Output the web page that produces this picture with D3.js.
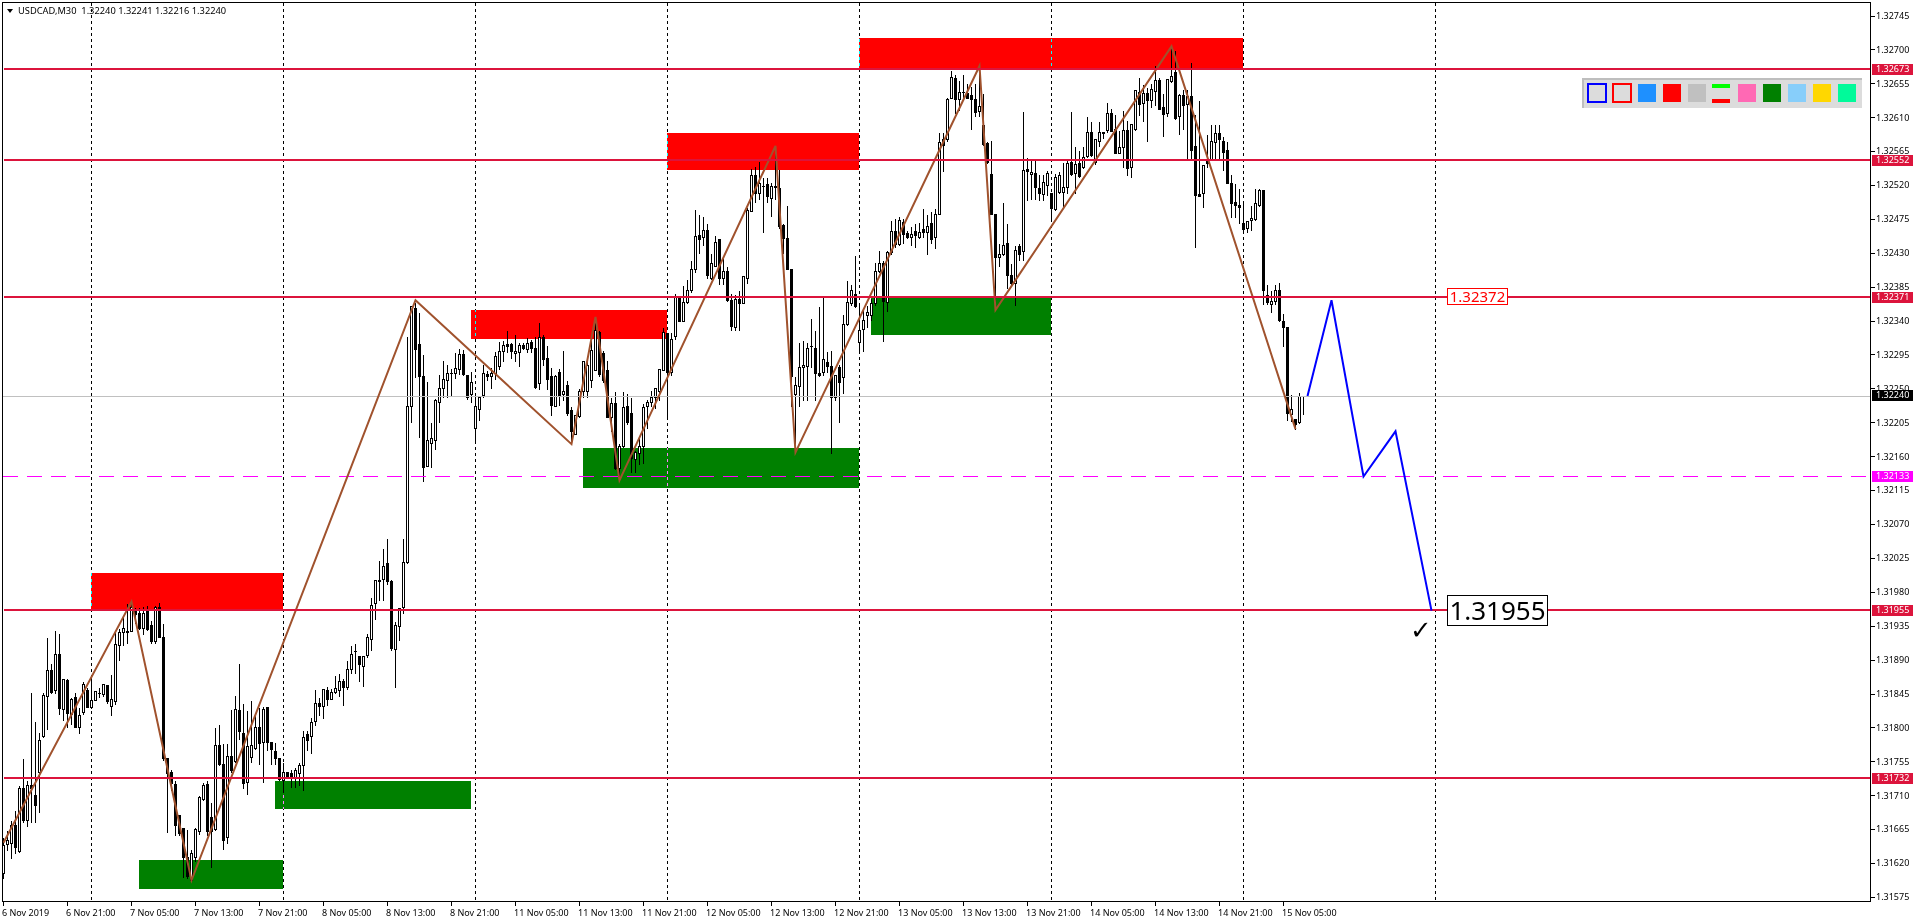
<!DOCTYPE html>
<html><head><meta charset="utf-8">
<script src="https://cdnjs.cloudflare.com/ajax/libs/d3/7.8.5/d3.min.js"></script>
<style>html,body{margin:0;padding:0;background:#fff;overflow:hidden}svg{display:block}text{font-family:"Noto Sans",sans-serif}</style>
</head><body><svg id="c" width="1916" height="923"></svg>
<script>
// prices are stored as points above 1.30000 (1607 = 1.31607)
const opens=[1607,1645,1646,1670,1636,1719,1677,1724,1710,1741,
1788,1842,1876,1850,1897,1825,1863,1818,1840,1801,
1821,1850,1827,1837,1846,1844,1856,1829,1835,1909,
1927,1928,1928,1954,1952,1932,1954,1936,1915,1960,
1920,1760,1741,1725,1684,1666,1628,1597,1628,1663,
1705,1725,1681,1665,1776,1752,1654,1762,1756,1823,
1793,1728,1761,1772,1800,1780,1827,1780,1769,1760,
1730,1741,1740,1733,1739,1750,1791,1788,1808,1833,
1828,1850,1838,1847,1850,1862,1854,1878,1902,1895,
1882,1896,1918,1965,1996,1997,2018,1994,1904,1934,
1960,2020,2226,2357,2309,2267,2147,2177,2181,2232,
2250,2261,2270,2270,2276,2295,2268,2243,2197,2222,
2241,2269,2267,2270,2280,2299,2309,2309,2297,2298,
2308,2302,2311,2303,2257,2318,2290,2267,2227,2272,
2243,2255,2221,2190,2214,2246,2246,2261,2275,2325,
2297,2275,2212,2230,2144,2173,2226,2218,2156,2164,
2174,2226,2232,2238,2246,2275,2323,2272,2319,2370,
2340,2365,2380,2408,2454,2451,2460,2397,2413,2448,
2397,2406,2367,2332,2369,2364,2397,2486,2533,2510,
2519,2521,2503,2519,2516,2467,2450,2408,2243,2253,
2278,2280,2306,2303,2271,2272,2285,2280,2238,2278,
2265,2336,2364,2375,2311,2329,2348,2348,2363,2406,
2417,2365,2431,2459,2442,2471,2456,2451,2459,2451,
2461,2458,2470,2451,2482,2581,2581,2635,2662,2634,
2643,2642,2639,2634,2618,2600,2576,2535,2482,2425,
2428,2443,2401,2390,2439,2432,2541,2535,2536,2516,
2508,2520,2510,2488,2511,2511,2517,2550,2536,2549,
2544,2558,2591,2550,2579,2590,2593,2616,2595,2563,
2570,2593,2544,2594,2644,2629,2642,2633,2645,2659,
2624,2615,2658,2670,2611,2639,2627,2638,2572,2508,
2510,2555,2555,2577,2589,2578,2566,2523,2497,2494,
2470,2463,2473,2475,2493,2513,2374,2362,2366,2381,
2339,2332,2216,2209,2206,2240];
const highs=[1655,1664,1677,1691,1723,1759,1730,1847,1809,1794,
1847,1920,1886,1929,1925,1864,1865,1841,1847,1827,
1861,1854,1867,1849,1854,1859,1858,1871,1929,1932,
1947,1965,1967,1960,1960,1961,1963,1943,1963,1967,
1939,1761,1745,1730,1684,1668,1665,1638,1668,1710,
1728,1730,1701,1801,1804,1779,1779,1825,1843,1886,
1832,1823,1836,1816,1827,1828,1827,1781,1781,1760,
1754,1741,1745,1747,1754,1797,1796,1814,1851,1840,
1851,1855,1852,1870,1872,1865,1890,1909,1912,1896,
1896,1925,1973,1997,2022,2038,2051,1997,1941,1958,
2052,2319,2361,2365,2352,2296,2260,2205,2237,2269,
2288,2283,2277,2298,2304,2302,2268,2273,2243,2239,
2282,2274,2279,2299,2313,2314,2328,2312,2322,2311,
2312,2318,2316,2319,2338,2322,2307,2279,2269,2277,
2301,2261,2226,2215,2251,2288,2293,2314,2343,2328,
2301,2288,2239,2247,2177,2246,2244,2239,2168,2188,
2230,2236,2248,2250,2277,2332,2323,2325,2376,2374,
2387,2395,2420,2488,2482,2479,2470,2430,2454,2449,
2423,2412,2376,2375,2381,2400,2491,2543,2545,2552,
2531,2531,2524,2572,2541,2469,2493,2409,2266,2312,
2314,2312,2343,2328,2360,2374,2300,2301,2268,2283,
2349,2394,2389,2427,2363,2354,2361,2370,2418,2434,
2421,2434,2474,2476,2479,2476,2460,2465,2470,2471,
2489,2482,2485,2489,2590,2591,2637,2673,2668,2659,
2667,2655,2651,2655,2677,2642,2578,2580,2483,2443,
2497,2470,2416,2440,2443,2618,2557,2553,2553,2535,
2535,2540,2510,2536,2539,2550,2555,2618,2572,2566,
2572,2612,2605,2581,2605,2592,2630,2622,2614,2593,
2620,2606,2601,2647,2663,2654,2650,2655,2679,2664,
2642,2661,2704,2699,2642,2647,2647,2683,2614,2633,
2546,2588,2601,2601,2601,2585,2579,2534,2523,2516,
2496,2473,2493,2516,2516,2513,2389,2381,2389,2391,
2350,2332,2242,2210,2245,2241];
const lows=[1600,1637,1626,1633,1635,1675,1669,1675,1675,1688,
1787,1798,1845,1845,1818,1810,1801,1805,1801,1793,
1818,1827,1826,1836,1841,1842,1833,1816,1831,1889,
1909,1912,1928,1938,1931,1924,1929,1912,1912,1920,
1757,1661,1717,1657,1657,1601,1600,1596,1622,1659,
1703,1657,1615,1664,1750,1639,1646,1741,1754,1785,
1719,1711,1754,1771,1752,1728,1770,1752,1752,1730,
1714,1734,1721,1721,1723,1717,1770,1766,1803,1816,
1812,1830,1838,1845,1842,1830,1851,1872,1872,1861,
1855,1894,1903,1944,1969,1969,1991,1903,1853,1916,
1952,2018,2206,2265,2185,2127,2147,2146,2169,2205,
2239,2239,2240,2264,2269,2268,2236,2232,2178,2208,
2239,2261,2250,2262,2276,2287,2298,2290,2286,2280,
2302,2298,2298,2251,2249,2281,2249,2215,2226,2228,
2235,2215,2182,2189,2212,2238,2238,2252,2274,2266,
2259,2212,2193,2143,2128,2172,2203,2139,2139,2150,
2151,2197,2226,2224,2235,2274,2210,2268,2316,2339,
2339,2363,2378,2405,2430,2440,2396,2395,2412,2389,
2389,2366,2327,2328,2328,2363,2390,2485,2498,2501,
2458,2498,2479,2502,2463,2430,2408,2226,2165,2226,
2234,2234,2279,2234,2267,2268,2272,2164,2235,2206,
2244,2334,2361,2358,2297,2300,2332,2341,2361,2405,
2313,2353,2429,2438,2440,2443,2449,2440,2438,2449,
2451,2429,2443,2436,2481,2538,2579,2635,2616,2620,
2633,2635,2595,2611,2611,2573,2549,2481,2354,2412,
2427,2383,2387,2361,2420,2420,2500,2502,2502,2500,
2500,2507,2473,2487,2510,2490,2509,2533,2509,2531,
2543,2557,2558,2548,2572,2582,2590,2592,2563,2563,
2544,2533,2531,2593,2613,2605,2579,2624,2626,2621,
2585,2611,2657,2608,2588,2595,2555,2555,2438,2506,
2491,2544,2554,2553,2555,2540,2522,2477,2477,2470,
2457,2458,2460,2473,2492,2362,2362,2352,2362,2340,
2306,2208,2207,2196,2204,2216];
const closes=[1644,1651,1670,1641,1719,1677,1724,1720,1697,1783,
1843,1876,1847,1898,1826,1864,1819,1838,1801,1817,
1858,1827,1837,1848,1846,1857,1835,1838,1911,1927,
1932,1926,1960,1951,1932,1952,1931,1915,1960,1920,
1759,1739,1726,1670,1660,1628,1603,1633,1665,1707,
1723,1662,1662,1776,1752,1650,1762,1743,1824,1795,
1726,1775,1776,1801,1779,1824,1781,1771,1760,1732,
1741,1736,1735,1744,1750,1787,1783,1807,1832,1828,
1851,1838,1847,1852,1862,1853,1878,1898,1901,1884,
1895,1920,1962,1996,1995,2014,1994,1906,1936,1958,
2019,2227,2359,2302,2267,2145,2182,2184,2235,2250,
2263,2270,2270,2277,2296,2269,2239,2258,2226,2238,
2271,2266,2271,2293,2299,2308,2306,2300,2300,2308,
2303,2310,2304,2252,2318,2289,2263,2228,2267,2241,
2247,2217,2194,2215,2246,2286,2281,2301,2328,2269,
2261,2212,2230,2144,2173,2225,2205,2157,2165,2174,
2225,2232,2238,2250,2276,2325,2272,2315,2371,2340,
2365,2381,2409,2452,2448,2460,2400,2416,2444,2397,
2406,2368,2333,2369,2364,2399,2487,2533,2510,2523,
2519,2506,2519,2517,2465,2450,2409,2266,2255,2278,
2281,2303,2306,2270,2268,2289,2280,2238,2268,2258,
2336,2365,2381,2360,2327,2341,2352,2363,2406,2417,
2366,2431,2459,2442,2474,2455,2451,2455,2454,2458,
2458,2465,2448,2482,2577,2573,2634,2663,2634,2643,
2643,2636,2634,2617,2625,2575,2551,2482,2425,2429,
2441,2401,2390,2434,2428,2540,2538,2537,2517,2510,
2524,2536,2489,2530,2533,2518,2549,2535,2548,2532,
2557,2591,2560,2581,2591,2589,2615,2592,2563,2570,
2593,2543,2601,2646,2627,2642,2633,2647,2659,2621,
2614,2661,2665,2609,2639,2626,2638,2567,2507,2506,
2546,2549,2578,2589,2581,2564,2523,2496,2493,2491,
2462,2472,2476,2496,2513,2380,2365,2366,2381,2341,
2332,2217,2222,2203,2240,2240];

const priceTicks=["1.32745","1.32700","1.32655","1.32610","1.32565","1.32520","1.32475","1.32430","1.32385","1.32340","1.32295","1.32250","1.32205","1.32160","1.32115","1.32070","1.32025","1.31980","1.31935","1.31890","1.31845","1.31800","1.31755","1.31710","1.31665","1.31620","1.31575"];
const timeTicks=["6 Nov 2019","6 Nov 21:00","7 Nov 05:00","7 Nov 13:00","7 Nov 21:00","8 Nov 05:00","8 Nov 13:00","8 Nov 21:00","11 Nov 05:00","11 Nov 13:00","11 Nov 21:00","12 Nov 05:00","12 Nov 13:00","12 Nov 21:00","13 Nov 05:00","13 Nov 13:00","13 Nov 21:00","14 Nov 05:00","14 Nov 13:00","14 Nov 21:00","15 Nov 05:00"];
const timeTickBars=timeTicks.map((_,k)=>k*16);
const daySeparatorBars=[22,70,118,166,214,262,310,358];

const crimsonLevels=[2673,2552,2371,1955,1732];
const currentLevel=2240;
const magentaLevel=2133;

// [startBar,endBar,topPoints,bottomPoints]
const redZones=[[22,70,2005,1955],[117,166,2354,2316],[166,214,2589,2540],[214,310,2715,2674]];
const greenZones=[[34,70,1624,1586],[68,117,1729,1692],[145,214,2171,2118],[217,262,2370,2321]];

const zigzagBars=[0,32,47,103,142,148,154,193,198,244,248,292,323];
const zigzagPts=[1647,1967,1597,2367,2176,2345,2128,2572,2165,2678,2354,2704,2196];
const forecastBars=[326,332,340,348,357];
const forecastPts=[2240,2367,2133,2193,1955];

const toolColors=["#DCDCDC","#DCDCDC","#1E90FF","#FF0000","#C0C0C0","split","#FF69B4","#008000","#87CEFA","#FFD700","#00FA9A"];
const toolStrokes=["#0000FF","#FF0000"];

const titleText="USDCAD,M30  1.32240 1.32241 1.32216 1.32240";

const P=v=>1.3+v/1e5;
const fmt=d3.format(".5f");
const x=d3.scaleLinear().domain([0,325]).range([3.5,1303.5]);
const y=d3.scaleLinear().domain([1.32745,1.31575]).range([15.5,896.9]);
const yPx=v=>Math.round(y(P(v)))+0.5;
const svg=d3.select("#c");
const CR="crispEdges";
const frame={l:2.5,t:2.5,r:1870.5,b:901.5};

svg.append("rect").attr("width",1916).attr("height",923).attr("fill","#fff");

// zones
const zoneG=svg.append("g").attr("shape-rendering",CR);
const drawZones=(z,col)=>zoneG.selectAll(null).data(z).join("rect")
 .attr("x",d=>Math.round(x(d[0])-.5)).attr("width",d=>Math.round(x(d[1])-x(d[0])))
 .attr("y",d=>Math.round(y(P(d[2])))).attr("height",d=>Math.round(y(P(d[3]))-y(P(d[2]))))
 .attr("fill",col);
drawZones(redZones,"#FF0000");drawZones(greenZones,"#008000");

// day separators (inverting dashes)
svg.append("g").attr("shape-rendering",CR).style("mix-blend-mode","difference")
 .selectAll("line").data(daySeparatorBars).join("line")
 .attr("x1",d=>Math.floor(x(d))+.5).attr("x2",d=>Math.floor(x(d))+.5)
 .attr("y1",frame.t).attr("y2",frame.b).attr("stroke","#fff").attr("stroke-dasharray","3 3");

// candles
const bars=opens.map((o,i)=>({i,o,h:highs[i],l:lows[i],c:closes[i]}));
const cg=svg.append("g").attr("shape-rendering",CR);
cg.selectAll("line").data(bars).join("line")
 .attr("x1",d=>x(d.i)).attr("x2",d=>x(d.i))
 .attr("y1",d=>yPx(d.h)).attr("y2",d=>yPx(d.l)).attr("stroke","#000");
cg.selectAll("rect").data(bars).join("rect")
 .attr("x",d=>x(d.i)-1).attr("width",2)
 .attr("y",d=>yPx(Math.max(d.o,d.c))).attr("height",d=>Math.max(0.001,yPx(Math.min(d.o,d.c))-yPx(Math.max(d.o,d.c))))
 .attr("fill",d=>d.c>=d.o?"#fff":"#000").attr("stroke","#000");

// grey current price
svg.append("line").attr("x1",frame.l).attr("x2",frame.r).attr("y1",yPx(currentLevel)).attr("y2",yPx(currentLevel))
 .attr("stroke","#C0C0C0").attr("shape-rendering",CR);
// magenta dashed
svg.append("line").attr("x1",frame.l).attr("x2",frame.r).attr("y1",Math.floor(y(P(magentaLevel)))+.5).attr("y2",Math.floor(y(P(magentaLevel)))+.5)
 .attr("stroke","#FF00FF").attr("stroke-dasharray","15 9").attr("shape-rendering",CR);
// zigzag
const line=d3.line();
svg.append("path").attr("d",line(zigzagBars.map((b,k)=>[x(b),y(P(zigzagPts[k]))])))
 .attr("fill","none").attr("stroke","#A0522D").attr("stroke-width",2);
// crimson levels
svg.append("g").attr("shape-rendering",CR).selectAll("line").data(crimsonLevels).join("line")
 .attr("x1",frame.l+1).attr("x2",frame.r).attr("y1",d=>Math.floor(y(P(d)))).attr("y2",d=>Math.floor(y(P(d))))
 .attr("stroke","#DC143C").attr("stroke-width",2);
// forecast
svg.append("path").attr("d",line(forecastBars.map((b,k)=>[x(b),y(P(forecastPts[k]))])))
 .attr("fill","none").attr("stroke","#0000FF").attr("stroke-width",2);

// frame
svg.append("path").attr("d",`M${frame.l},${frame.b}V${frame.t}H${frame.r}V${frame.b}`).attr("fill","none").attr("stroke","#000").attr("shape-rendering",CR);
svg.append("line").attr("x1",frame.l).attr("x2",frame.r).attr("y1",frame.b).attr("y2",frame.b).attr("stroke","#000").attr("shape-rendering",CR);

// price axis
const ya=svg.append("g");
ya.selectAll("line").data(priceTicks).join("line").attr("x1",frame.r).attr("x2",frame.r+4)
 .attr("y1",d=>Math.round(y(+d))+.5).attr("y2",d=>Math.round(y(+d))+.5).attr("stroke","#000").attr("shape-rendering",CR);
ya.selectAll("text").data(priceTicks).join("text").attr("x",1876).attr("y",d=>y(+d)+3.3)
 .attr("font-size",9).attr("fill","#000").text(d=>d);

// price tags
const tags=[...crimsonLevels.map(v=>({v,bg:"#DC143C"})),{v:currentLevel,bg:"#000"},{v:magentaLevel,bg:"#FF00FF"}];
const tg=svg.append("g");
tg.selectAll("rect").data(tags).join("rect").attr("x",1872).attr("width",41).attr("height",11)
 .attr("y",d=>Math.floor(y(P(d.v)))-5.5).attr("fill",d=>d.bg).attr("shape-rendering",CR);
tg.selectAll("text").data(tags).join("text").attr("x",1876).attr("y",d=>Math.floor(y(P(d.v)))+3.3)
 .attr("font-size",9).attr("fill","#fff").text(d=>fmt(P(d.v)));

// time axis
const xa=svg.append("g");
xa.selectAll("line").data(timeTickBars).join("line").attr("x1",d=>x(d)).attr("x2",d=>x(d))
 .attr("y1",frame.b).attr("y2",frame.b+4).attr("stroke","#000").attr("shape-rendering",CR);
xa.selectAll("text").data(timeTickBars).join("text").attr("x",d=>x(d)-1.5).attr("y",915.5)
 .attr("font-size",9).attr("fill","#000").text((d,k)=>timeTicks[k]);

// title
svg.append("path").attr("d","M7,9H13L10,13Z").attr("fill","#000");
svg.append("text").attr("x",18).attr("y",13.5).attr("font-size",9.3).attr("fill","#000").style("white-space","pre").text(titleText);

// annotations
const lab=(t,bar,pts,fs,col,w,h)=>{
 const cx=x(bar),cy=y(P(pts));
 svg.append("rect").attr("x",cx).attr("y",cy-h/2).attr("width",w).attr("height",h).attr("fill","#fff").attr("stroke",col).attr("shape-rendering",CR);
 svg.append("text").attr("x",cx+w/2).attr("y",cy+fs*.36).attr("text-anchor","middle").attr("font-size",fs).attr("fill",col).text(t);
};
lab("1.32372",361,2372,15,"#FF0000",60,16);
lab("1.31955",361,1955,26,"#000",100,30);
svg.append("text").attr("x",x(351.7)).attr("y",y(P(1918))).attr("font-size",26).attr("font-family","DejaVu Sans").attr("fill","#000").text("✓");

// toolbar
const tb=svg.append("g").attr("shape-rendering",CR);
tb.append("rect").attr("x",1582).attr("y",78).attr("width",280).attr("height",30).attr("fill","#DCDCDC");
tb.append("path").attr("d","M1583,108V79H1862").attr("fill","none").attr("stroke","#BEBEBE").attr("stroke-width",2);
toolColors.forEach((c,k)=>{
 const X=1587+k*25;
 if(c==="split"){
  tb.append("rect").attr("x",X).attr("y",84).attr("width",18).attr("height",4).attr("fill","#00FF00");
  tb.append("rect").attr("x",X).attr("y",99).attr("width",18).attr("height",4).attr("fill","#FF0000");
 }else if(k<2){
  tb.append("rect").attr("x",X+1).attr("y",84).attr("width",18).attr("height",18).attr("fill",c).attr("stroke",toolStrokes[k]).attr("stroke-width",2);
 }else{
  tb.append("rect").attr("x",X+1).attr("y",84).attr("width",18).attr("height",18).attr("fill",c);
 }
});
</script></body></html>
